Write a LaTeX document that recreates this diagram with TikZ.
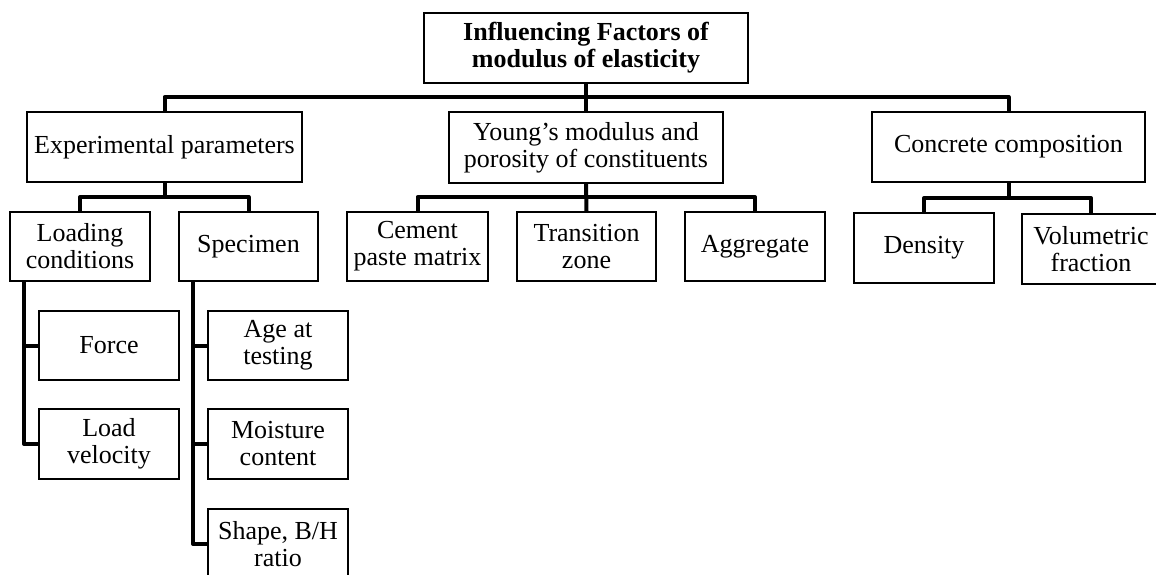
\documentclass[tikz,border=0pt]{standalone}
\usepackage{fontspec}
\setmainfont{Liberation Serif}
\begin{document}
\begin{tikzpicture}[x=1pt,y=-1pt,
  box/.style={draw, line width=1.3pt, inner sep=0pt, align=center,
    font=\fontsize{26}{27}\selectfont, minimum width=140pt, minimum height=69pt},
  conn/.style={line width=4pt, line join=round}]
\useasboundingbox (0,0) rectangle (1156,574);
% level 0
\node[box, minimum width=324pt, minimum height=70pt,
  font=\fontsize{26}{27}\selectfont\bfseries] (root) at (586,48)
  {Influencing Factors of\\modulus of elasticity};
% level 1
\node[box, minimum width=275pt, minimum height=70pt] (exp) at (164.5,147) {Experimental parameters};
\node[box, minimum width=274pt, minimum height=71pt] (young) at (586,147.5) {Young’s modulus and\\porosity of constituents};
\node[box, minimum width=273pt, minimum height=70pt] (conc) at (1008.5,147) {Concrete composition};
% level 2
\node[box] (loading) at (80,246.5) {Loading\\conditions};
\node[box, minimum width=139pt] (specimen) at (248.5,246.5) {Specimen};
\node[box, minimum width=141pt] (cement) at (417.5,246.5) {Cement\\paste matrix};
\node[box, minimum width=139pt] (transition) at (586.5,246.5) {Transition\\zone};
\node[box] (aggregate) at (755,246.5) {Aggregate};
\node[box, minimum height=70pt] (density) at (924,248) {Density};
\node[box, minimum width=138pt, minimum height=70pt] (vol) at (1091,249) {Volumetric\\fraction};
% level 3
\node[box] (force) at (109,345.5) {Force};
\node[box, minimum height=70pt] (loadvel) at (109,444) {Load\\velocity};
\node[box] (age) at (278,345.5) {Age at\\testing};
\node[box, minimum height=70pt] (moisture) at (278,444) {Moisture\\content};
\node[box, minimum height=70pt] (shape) at (278,544) {Shape, B/H\\ratio};
% junctions
\coordinate (j1) at (586,97);
\coordinate (j2) at (164.5,197);
\coordinate (j3) at (586,197);
\coordinate (j4) at (1008.5,198);
\coordinate (lstem) at (24,281);
\coordinate (sstem) at (193,281);
% connectors
\draw[conn] (root.south) -- (young.north);
\draw[conn] (exp.north) |- (j1) -| (conc.north);
\draw[conn] (exp.south) -- (j2);
\draw[conn] (loading.north) |- (j2) -| (specimen.north);
\draw[conn] (young.south) -- (transition.north);
\draw[conn] (cement.north) |- (j3) -| (aggregate.north);
\draw[conn] (conc.south) -- (j4);
\draw[conn] (density.north) |- (j4) -| (vol.north);
\draw[conn] (lstem) |- (loadvel.west);
\draw[conn] (lstem |- force.west) -- (force.west);
\draw[conn] (sstem) |- (shape.west);
\draw[conn] (sstem |- age.west) -- (age.west);
\draw[conn] (sstem |- moisture.west) -- (moisture.west);
\end{tikzpicture}
\end{document}
